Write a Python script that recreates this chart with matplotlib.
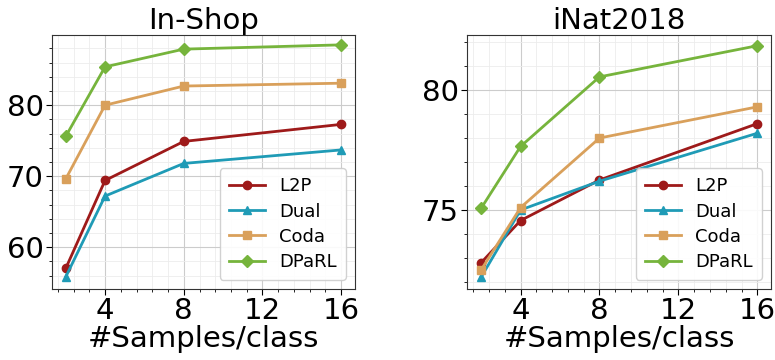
import matplotlib
matplotlib.use("Agg")
import matplotlib.pyplot as plt
from matplotlib.ticker import AutoMinorLocator, MultipleLocator

samples = [2, 4, 8, 16]
methods = ["L2P", "Dual", "Coda", "DPaRL"]
colors = ["#9e1a1a", "#1f9bb6", "#d9a05b", "#76b43c"]
markers = ["o", "^", "s", "D"]

inshop = {
    "L2P":   [57.0, 69.4, 74.9, 77.3],
    "Dual":  [55.8, 67.2, 71.8, 73.7],
    "Coda":  [69.6, 80.0, 82.7, 83.1],
    "DPaRL": [75.6, 85.4, 87.9, 88.5],
}
inat = {
    "L2P":   [72.8, 74.56, 76.25, 78.6],
    "Dual":  [72.2, 75.0, 76.2, 78.2],
    "Coda":  [72.5, 75.1, 78.0, 79.3],
    "DPaRL": [75.07, 77.65, 80.55, 81.85],
}
titles = ["In-Shop", "iNat2018"]
xticks = [4, 8, 12, 16]
ylims = [(54.1, 89.9), (71.7, 82.3)]

fig = plt.figure(figsize=(7.75, 3.6), dpi=100)
ax1 = fig.add_axes([0.067, 0.197, 0.391, 0.706])
ax2 = fig.add_axes([0.603, 0.197, 0.392, 0.706])

for ax, data, title, ystep, yl in [(ax1, inshop, titles[0], 10, ylims[0]),
                                   (ax2, inat, titles[1], 5, ylims[1])]:
    for m, c, mk in zip(methods, colors, markers):
        ax.plot(samples, data[m], color=c, marker=mk, lw=2, ms=6, label=m)
    ax.set_title(title, fontsize=21, pad=3)
    ax.set_xlabel("#Samples/class", fontsize=21, labelpad=0)
    ax.set_xticks(xticks)
    ax.set_ylim(*yl)
    ax.yaxis.set_major_locator(MultipleLocator(ystep))
    ax.xaxis.set_minor_locator(AutoMinorLocator(5))
    ax.yaxis.set_minor_locator(AutoMinorLocator(5))
    ax.tick_params(axis="both", which="major", labelsize=21, length=4, pad=2)
    ax.tick_params(axis="both", which="minor", length=2)
    ax.grid(True, which="major", color="#cccccc", lw=0.8)
    ax.grid(True, which="minor", color="#ececec", lw=0.6)
    ax.set_axisbelow(True)
    for s in ax.spines.values():
        s.set_color("#333333")
    ax.legend(loc="lower right", fontsize=13, handlelength=2.0, borderpad=0.5,
              labelspacing=0.4, framealpha=0.9)

fig.savefig("out.png", dpi=100)
